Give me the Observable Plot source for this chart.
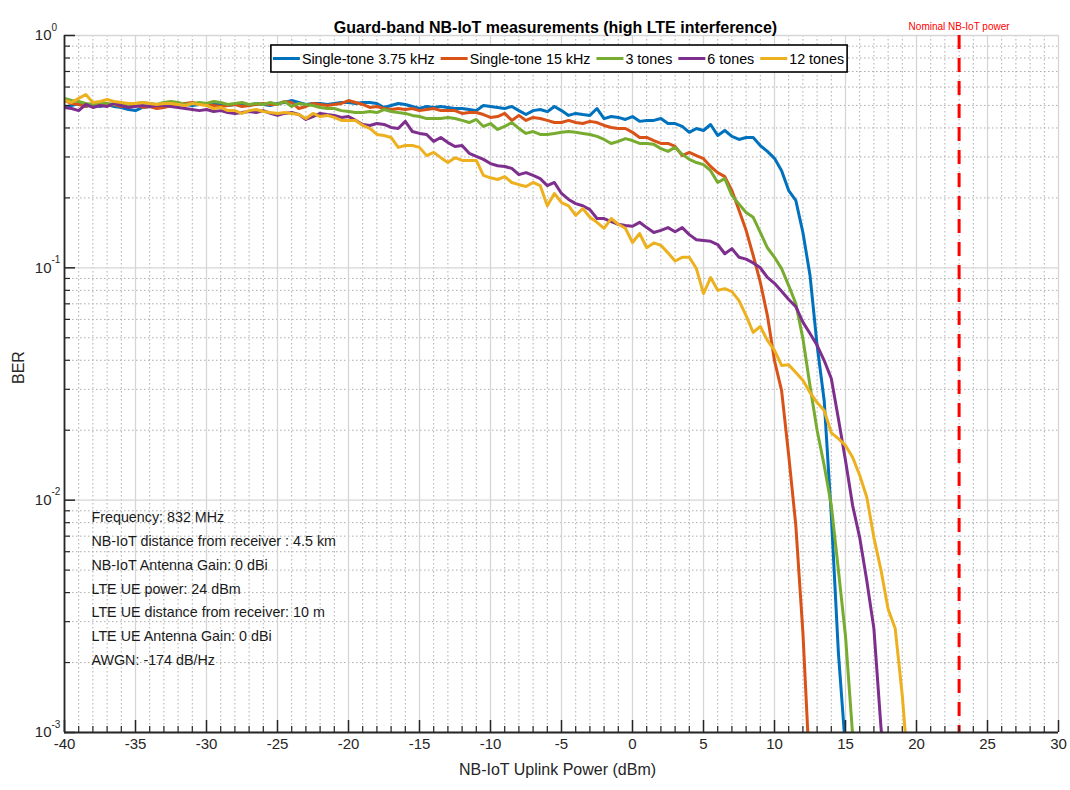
<!DOCTYPE html>
<html><head><meta charset="utf-8">
<script src="https://cdn.jsdelivr.net/npm/d3@7"></script>
<script src="https://cdn.jsdelivr.net/npm/@observablehq/plot@0.6"></script>
<style>
body{margin:0;background:#fff;}
#chart{width:1070px;height:790px;}
</style></head><body><div id="chart"></div>
<script>
// ---- data ----
const title = "Guard-band NB-IoT measurements (high LTE interference)";
const xLabel = "NB-IoT Uplink Power (dBm)";
const yLabel = "BER";
const nominalPower = 23;
const nominalLabel = "Nominal NB-IoT power";
const seriesNames = ["Single-tone 3.75 kHz", "Single-tone 15 kHz", "3 tones", "6 tones", "12 tones"];
const seriesColors = ["#0072BD", "#D95319", "#77AC30", "#7E2F8E", "#EDB120"];
const annotationLines = [
  "Frequency: 832 MHz",
  "NB-IoT distance from receiver : 4.5 km",
  "NB-IoT Antenna Gain: 0 dBi",
  "LTE UE power: 24 dBm",
  "LTE UE distance from receiver: 10 m",
  "LTE UE Antenna Gain: 0 dBi",
  "AWGN: -174 dB/Hz"
];
const xTicks = [-40, -35, -30, -25, -20, -15, -10, -5, 0, 5, 10, 15, 20, 25, 30];
const yDecades = [0.001, 0.01, 0.1, 1];
const yExponents = ["-3", "-2", "-1", "0"];

const power = [-40,-39.5,-39,-38.5,-38,-37.5,-37,-36.5,-36,-35.5,-35,-34.5,-34,-33.5,-33,-32.5,-32,-31.5,-31,-30.5,
  -30,-29.5,-29,-28.5,-28,-27.5,-27,-26.5,-26,-25.5,-25,-24.5,-24,-23.5,-23,-22.5,-22,-21.5,-21,-20.5,
  -20,-19.5,-19,-18.5,-18,-17.5,-17,-16.5,-16,-15.5,-15,-14.5,-14,-13.5,-13,-12.5,-12,-11.5,-11,-10.5,
  -10,-9.5,-9,-8.5,-8,-7.5,-7,-6.5,-6,-5.5,-5,-4.5,-4,-3.5,-3,-2.5,-2,-1.5,-1,-0.5,
  0,0.5,1,1.5,2,2.5,3,3.5,4,4.5,5,5.5,6,6.5,7,7.5,8,8.5,9,9.5,
  10,10.5,11,11.5,12,12.5,13,13.5,14,14.5,15,15.5,16,16.5,17,17.5,18,18.5,19,19.5];

const berTone375 = [0.49,0.50,0.51,0.495,0.505,0.495,0.505,0.495,0.49,0.48,
  0.475,0.49,0.495,0.5,0.495,0.505,0.5,0.505,0.5,0.505,
  0.51,0.505,0.51,0.5,0.505,0.51,0.5,0.51,0.505,0.5,
  0.51,0.515,0.525,0.515,0.505,0.51,0.51,0.505,0.51,0.515,
  0.515,0.51,0.515,0.515,0.51,0.49,0.5,0.51,0.505,0.495,
  0.485,0.495,0.49,0.495,0.49,0.485,0.485,0.48,0.475,0.5,
  0.495,0.49,0.485,0.495,0.475,0.457,0.475,0.48,0.47,0.495,
  0.475,0.453,0.462,0.457,0.453,0.485,0.439,0.448,0.444,0.435,
  0.448,0.427,0.431,0.431,0.439,0.418,0.418,0.406,0.383,0.398,
  0.39,0.414,0.371,0.39,0.368,0.357,0.364,0.364,0.336,0.317,
  0.296,0.262,0.215,0.195,0.142,0.093,0.0464,0.0268,0.0086,0.0022,0.00085];

const berTone15 = [0.525,0.51,0.505,0.495,0.51,0.515,0.5,0.505,0.495,0.5,
  0.505,0.49,0.495,0.485,0.49,0.5,0.505,0.51,0.515,0.505,
  0.51,0.5,0.495,0.5,0.505,0.495,0.5,0.505,0.51,0.505,
  0.505,0.52,0.515,0.485,0.495,0.51,0.505,0.5,0.505,0.51,
  0.525,0.515,0.505,0.49,0.495,0.485,0.48,0.485,0.48,0.485,
  0.475,0.48,0.485,0.475,0.475,0.475,0.462,0.466,0.466,0.457,
  0.444,0.448,0.462,0.431,0.453,0.431,0.444,0.439,0.431,0.422,
  0.422,0.431,0.422,0.418,0.427,0.422,0.41,0.402,0.398,0.398,
  0.383,0.364,0.364,0.353,0.343,0.343,0.333,0.304,0.314,0.304,
  0.295,0.273,0.257,0.247,0.215,0.177,0.145,0.113,0.0867,0.0623,
  0.0399,0.0296,0.0156,0.0078,0.0027,0.00064];

const ber3Tones = [0.536,0.525,0.52,0.51,0.505,0.515,0.51,0.505,0.51,0.505,
  0.51,0.515,0.51,0.505,0.515,0.52,0.515,0.505,0.51,0.515,
  0.51,0.52,0.515,0.505,0.51,0.515,0.505,0.51,0.505,0.515,
  0.505,0.52,0.495,0.51,0.505,0.5,0.49,0.485,0.485,0.475,
  0.471,0.466,0.466,0.471,0.466,0.48,0.471,0.466,0.462,0.453,
  0.448,0.439,0.439,0.439,0.444,0.439,0.431,0.422,0.435,0.406,
  0.418,0.394,0.406,0.422,0.398,0.379,0.386,0.375,0.375,0.379,
  0.383,0.386,0.383,0.379,0.375,0.368,0.357,0.343,0.35,0.36,
  0.353,0.343,0.343,0.34,0.326,0.317,0.33,0.308,0.293,0.284,
  0.278,0.262,0.233,0.242,0.205,0.188,0.173,0.165,0.142,0.122,
  0.111,0.0992,0.0839,0.0702,0.0496,0.0311,0.02,0.0141,0.0095,0.005,
  0.0026,0.00098];

const ber6Tones = [0.49,0.485,0.475,0.505,0.49,0.5,0.495,0.51,0.5,0.49,
  0.495,0.5,0.495,0.5,0.5,0.495,0.49,0.485,0.48,0.475,
  0.48,0.471,0.475,0.466,0.462,0.466,0.471,0.466,0.475,0.462,
  0.453,0.462,0.466,0.457,0.435,0.448,0.462,0.457,0.453,0.444,
  0.448,0.431,0.414,0.41,0.418,0.414,0.402,0.398,0.427,0.386,
  0.379,0.375,0.35,0.364,0.346,0.333,0.336,0.311,0.302,0.293,
  0.281,0.275,0.273,0.268,0.252,0.257,0.25,0.242,0.226,0.233,
  0.209,0.197,0.189,0.185,0.178,0.163,0.163,0.158,0.154,0.152,
  0.151,0.157,0.149,0.142,0.145,0.149,0.143,0.149,0.139,0.132,
  0.131,0.13,0.126,0.115,0.121,0.111,0.109,0.105,0.1,0.0909,
  0.0858,0.0793,0.0731,0.0681,0.0584,0.0522,0.0464,0.0399,0.0334,0.0224,
  0.0148,0.0095,0.0069,0.0045,0.0028,0.00105,0.0005];

const ber12Tones = [0.525,0.515,0.536,0.557,0.515,0.52,0.53,0.52,0.515,0.51,
  0.51,0.515,0.51,0.505,0.51,0.51,0.505,0.5,0.51,0.505,
  0.5,0.485,0.49,0.475,0.475,0.462,0.475,0.48,0.471,0.466,
  0.462,0.466,0.462,0.457,0.439,0.462,0.448,0.453,0.444,0.431,
  0.431,0.431,0.41,0.398,0.375,0.371,0.364,0.33,0.336,0.336,
  0.33,0.304,0.314,0.298,0.284,0.298,0.29,0.29,0.29,0.25,
  0.244,0.24,0.247,0.233,0.228,0.224,0.233,0.226,0.185,0.209,
  0.191,0.185,0.168,0.18,0.165,0.157,0.148,0.163,0.154,0.148,
  0.1285,0.1405,0.122,0.128,0.125,0.116,0.107,0.111,0.111,0.0993,
  0.0775,0.0908,0.08,0.0814,0.079,0.0723,0.0623,0.0527,0.0559,0.0487,
  0.0441,0.038,0.0383,0.0354,0.0328,0.0291,0.0263,0.0243,0.0195,0.0184,
  0.0172,0.0153,0.0128,0.0103,0.0069,0.005,0.0034,0.0028,0.00144,0.0006];

// ---- build table ----
const seriesValues = [berTone375, berTone15, ber3Tones, ber6Tones, ber12Tones];
const rows = [];
seriesValues.forEach((vals, i) => vals.forEach((v, j) => rows.push({series: seriesNames[i], power: power[j], ber: v})));

const W = 1070, H = 790, mL = 64, mR = 12, mT = 35, mB = 58;
const frameW = W - mL - mR, frameH = H - mT - mB;
const font = "'Liberation Sans', Arial, Helvetica, sans-serif";
const xMinor = d3.range(-40, 31).filter(v => v % 5 !== 0);
const yMinor = yDecades.slice(0, 3).flatMap(d => d3.range(2, 10).map(k => k * d));
const axisColor = "#262626";

const chart = Plot.plot({
  width: W, height: H,
  marginLeft: mL, marginRight: mR, marginTop: mT, marginBottom: mB,
  style: {fontFamily: font, fontSize: "15px", background: "#fff", color: axisColor},
  x: {domain: [-40, 30], axis: null},
  y: {type: "log", domain: [0.001, 1], axis: null},
  color: {domain: seriesNames, range: seriesColors},
  marks: [
    // minor grid (dotted)
    Plot.ruleX(xMinor, {stroke: "#adadad", strokeWidth: 1, strokeDasharray: "1.5,2.5"}),
    Plot.ruleY(yMinor, {stroke: "#adadad", strokeWidth: 1, strokeDasharray: "1.5,2.5"}),
    // major grid
    Plot.ruleX(xTicks, {stroke: "#d6d6d6", strokeWidth: 1.3}),
    Plot.ruleY(yDecades, {stroke: "#d6d6d6", strokeWidth: 1.3}),
    // nominal power line
    Plot.ruleX([nominalPower], {stroke: "#ff0000", strokeWidth: 3, strokeDasharray: "14,9"}),
    // data lines
    Plot.line(rows, {x: "power", y: "ber", z: "series", stroke: "series", strokeWidth: 3, clip: true}),
    // inward ticks
    Plot.ruleX(xMinor, {stroke: axisColor, strokeWidth: 1.2, insetTop: frameH - 6}),
    Plot.ruleX(xTicks, {stroke: axisColor, strokeWidth: 1.5, insetTop: frameH - 12}),
    Plot.ruleY(yMinor, {stroke: axisColor, strokeWidth: 1.2, insetRight: frameW - 6}),
    Plot.ruleY(yDecades, {stroke: axisColor, strokeWidth: 1.5, insetRight: frameW - 11}),
    // axis lines
    Plot.ruleY([0.001], {stroke: axisColor, strokeWidth: 1.8}),
    Plot.ruleX([-40], {stroke: axisColor, strokeWidth: 1.8}),
    // x tick labels
    Plot.text(xTicks, {x: d => d, frameAnchor: "bottom", dy: 16, text: d => String(d), fontSize: 15, fill: axisColor}),
    // y tick labels 10^n
    Plot.text(yDecades, {y: d => d, frameAnchor: "left", dx: -13, textAnchor: "end", text: () => "10", fontSize: 15, fill: axisColor}),
    Plot.text(yDecades, {y: d => d, frameAnchor: "left", dx: -13, dy: -8, textAnchor: "start", text: (d, i) => yExponents[i], fontSize: 10, fill: axisColor}),
    // axis labels
    Plot.text([xLabel], {frameAnchor: "bottom", dy: 42, dx: -4, text: d => d, fontSize: 16, fill: axisColor}),
    Plot.text([yLabel], {frameAnchor: "left", dx: -46, rotate: -90, text: d => d, fontSize: 16, fill: axisColor}),
    // title
    Plot.text([title], {frameAnchor: "top", dy: -14, dx: -6, text: d => d, fontSize: 16, fontWeight: "bold", fill: "#000"}),
    // nominal label
    Plot.text([nominalPower], {x: d => d, frameAnchor: "top", dy: -13, text: () => nominalLabel, fontSize: 10, fill: "#ff0000"}),
    // annotation block
    Plot.text([annotationLines.join("\n")], {frameAnchor: "top-left", dx: 27, dy: 470, lineAnchor: "top", lineHeight: 1.66, textAnchor: "start", text: d => d, fontSize: 14.3, fill: "#1a1a1a"})
  ]
});
document.getElementById("chart").appendChild(chart);

// ---- legend box (inside the axes, top centre) ----
const svg = d3.select(chart);
const lg = svg.append("g").attr("font-family", font).attr("font-size", 14.3).attr("text-anchor", "start");
const box = lg.append("rect").attr("fill", "#fff").attr("stroke", "#000").attr("stroke-width", 1.6);
const yMid = 58.5;
let cx = 0;
const items = lg.append("g");
seriesNames.forEach((name, i) => {
  items.append("line").attr("x1", cx).attr("x2", cx + 27).attr("y1", yMid).attr("y2", yMid)
    .attr("stroke", seriesColors[i]).attr("stroke-width", 3);
  const t = items.append("text").attr("x", cx + 29).attr("y", yMid + 5).attr("fill", "#000")
    .attr("text-anchor", "start").text(name);
  const w = t.node().getComputedTextLength();
  cx += 29 + w + (i < seriesNames.length - 1 ? 6 : 0);
});
const totalW = cx + 5;
const left = mL + frameW / 2 - totalW / 2 - 2;
items.attr("transform", `translate(${left + 2},0)`);
box.attr("x", left).attr("y", 45).attr("width", totalW).attr("height", 27);
</script></body></html>
